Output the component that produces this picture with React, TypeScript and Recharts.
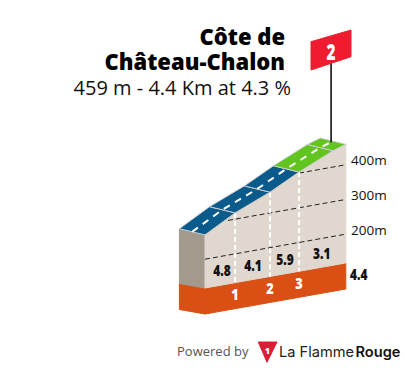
import React from 'react';
import { ScatterChart, Scatter, XAxis, YAxis } from 'recharts';

// ---- data ----
const profileKm = [0, 0.94, 2.03, 2.94, 4.0, 4.4];
const profileM = [270, 318, 360, 403, 447, 459];
const gridLevels = [200, 300, 400];
const gridStartKm = [0, 0.72, 2.94];
const kmMarks = [1, 2, 3];
const kmMarkIdx = [1, 2, 3];
const segmentSlopes = ['4.8', '4.1', '5.9', '3.1'];
const segmentLabelKm = [0.53, 1.5, 2.5, 3.65];
const segmentColors = ['#0b5a8c', '#0b5a8c', '#0b5a8c', '#61c41f', '#61c41f'];
const baseM = 117;
const totalKm = 4.4;
const titleLines = ['Côte de', 'Château-Chalon'];
const subtitle = '459 m - 4.4 Km at 4.3 %';
const avgLabel = '4.4';

// ---- projection / layout ----
const W = 405, H = 368;
const PX_KM = 32, PX_M = 0.347, SHEAR = 16.4;
const X0 = 205, Y0 = 288;
const xDomain = [(0 - X0) / PX_KM, (W - X0) / PX_KM];
const yDomain = [baseM + (Y0 - H) / PX_M, baseM + Y0 / PX_M];
const p = (km: number, m: number, dk = 0, dm = 0) => ({ x: km + dk, y: m + km * SHEAR + dm });
const fromPx = (px: number, py: number) => ({ x: (px - X0) / PX_KM, y: baseM + (Y0 - py) / PX_M });
const close = (a: any[]) => [...a, a[0]];
const elevAt = (km: number) => {
  for (let i = 1; i < profileKm.length; i++) {
    if (km <= profileKm[i]) {
      const t = (km - profileKm[i - 1]) / (profileKm[i] - profileKm[i - 1]);
      return profileM[i - 1] + t * (profileM[i] - profileM[i - 1]);
    }
  }
  return profileM[profileM.length - 1];
};
const ROAD_K = -0.8, ROAD_M = 18, SIDE_M = 13, THICK = 75;
const none = () => null;

const front = close([
  p(0, baseM),
  ...profileKm.map((k, i) => p(k, profileM[i])),
  p(totalKm, baseM),
]);
const side = close([p(0, profileM[0]), p(0, profileM[0], ROAD_K, ROAD_M), p(0, baseM, ROAD_K, SIDE_M), p(0, baseM)]);
const orangeFront = close([p(0, baseM), p(totalKm, baseM), p(totalKm, baseM - THICK), p(0, baseM - THICK)]);
const orangeSide = close([p(0, baseM), p(0, baseM, ROAD_K, SIDE_M), p(0, baseM - THICK, ROAD_K, SIDE_M), p(0, baseM - THICK)]);
const roadSegs = profileKm.slice(1).map((k, i) =>
  close([
    p(profileKm[i], profileM[i]),
    p(k, profileM[i + 1]),
    p(k, profileM[i + 1], ROAD_K, ROAD_M),
    p(profileKm[i], profileM[i], ROAD_K, ROAD_M),
  ]),
);
const centre = profileKm.map((k, i) => p(k, profileM[i], ROAD_K / 2, ROAD_M / 2));
const grids = gridLevels.map((m, i) => [p(gridStartKm[i], m), p(totalKm, m)]);
const marks = kmMarkIdx.map((idx) => [p(profileKm[idx], profileM[idx]), p(profileKm[idx], baseM)]);
const poleKm = 4.34;
const poleBase = p(poleKm, elevAt(poleKm), ROAD_K / 2, ROAD_M / 2);
const poleTop = { x: poleBase.x, y: fromPx(0, 62).y };
const flag = close([fromPx(311, 41.7), fromPx(351, 30), fromPx(351, 56.7), fromPx(311, 70)]);
const logo = close([fromPx(258.3, 342), fromPx(277, 342), fromPx(267, 362.3)]);

type L = { x: number; y: number; t: any; size: number; weight?: number; fill?: string; anchor?: string; font?: string; sx?: number };
const OS = '"Open Sans", sans-serif';
const labels: L[] = [
  { ...fromPx(285, 45), t: titleLines[0], size: 22, weight: 800, fill: '#000', anchor: 'end', font: OS },
  { ...fromPx(285, 70), t: titleLines[1], size: 22, weight: 800, fill: '#000', anchor: 'end', font: OS },
  { ...fromPx(291, 95), t: subtitle, size: 20, weight: 400, fill: '#111', anchor: 'end', font: OS },
  ...gridLevels.map((m, i) => ({ ...fromPx(351, [235, 200, 165][i]), t: `${m}m`, size: 13.5, weight: 400, fill: '#111', anchor: 'start', font: OS })),
  { ...fromPx(350, 280), t: avgLabel, size: 15, weight: 800, fill: '#111', anchor: 'start', font: OS, sx: 0.8 },
  ...segmentSlopes.map((s, i) => ({
    ...p(segmentLabelKm[i], baseM + 25),
    t: s, size: 15, weight: 800, fill: '#111', anchor: 'middle', font: OS, sx: 0.8,
  })),
  ...kmMarks.map((n, i) => ({
    ...p(profileKm[kmMarkIdx[i]], baseM - 50),
    t: String(n), size: 16, weight: 800, fill: '#fff', anchor: 'middle', font: OS, sx: 0.8,
  })),
  { ...fromPx(331, 60), t: '2', size: 22, weight: 800, fill: '#fff', anchor: 'middle', font: OS, sx: 0.7 },
  { ...fromPx(267.4, 354), t: '1', size: 9, weight: 800, fill: '#fff', anchor: 'middle', font: OS },
  { ...fromPx(177, 356), t: 'Powered by', size: 13, weight: 400, fill: '#555', anchor: 'start', font: OS },
  { ...fromPx(279, 357), t: 'La Flamme', size: 14.6, weight: 400, fill: '#222', anchor: 'start', font: 'Inter, sans-serif' },
  { ...fromPx(355.5, 357), t: 'Rouge', size: 14.6, weight: 600, fill: '#111', anchor: 'start', font: 'Inter, sans-serif' },
];

const TextMark = (pr: any) => {
  const d = pr.payload as L;
  const sx = d.sx ?? 1;
  return (
    <text
      transform={`translate(${pr.cx},${pr.cy}) scale(${sx},1)`}
      fontSize={d.size}
      fontWeight={d.weight}
      fill={d.fill}
      textAnchor={d.anchor as any}
      fontFamily={d.font}
    >
      {d.t}
    </text>
  );
};

const face = (key: string, pts: any[], fill: string, stroke?: string, sw = 1) => (
  <Scatter key={key} data={pts} shape={none} isAnimationActive={false} line={{ fill, stroke: stroke ?? fill, strokeWidth: sw }} />
);
const dash = (key: string, pts: any[], stroke: string, da: string, sw: number) => (
  <Scatter key={key} data={pts} shape={none} isAnimationActive={false} line={{ fill: 'none', stroke, strokeDasharray: da, strokeWidth: sw }} />
);

export default function App() {
  return (
    <div style={{ position: 'absolute', left: 0, top: 0, width: W, height: H }}>
      <ScatterChart width={W} height={H} margin={{ top: 0, right: 0, bottom: 0, left: 0 }}>
        <XAxis dataKey="x" type="number" domain={xDomain as any} hide allowDataOverflow />
        <YAxis dataKey="y" type="number" domain={yDomain as any} hide allowDataOverflow />
        {face('orangeSide', orangeSide, '#d94f14')}
        {face('orangeFront', orangeFront, '#d94f14')}
        {face('side', side, '#a39a8e')}
        {face('front', front, '#e0d8cf')}
        {grids.map((g, i) => dash(`g${i}`, g, '#222', '5 3', 1))}
        {marks.map((g, i) => dash(`m${i}`, g, '#fff', '5 3', 2))}
        {roadSegs.map((s, i) => face(`r${i}`, s, segmentColors[i], '#cfcfcf', 1))}
        {dash('centre', centre, '#fff', '7 6', 2)}
        {dash('pole', [poleBase, poleTop], '#111', '', 1.6)}
        {face('flag', flag, '#ee1c2e')}
        {face('logo', logo, '#d81e35')}
        <Scatter data={labels} shape={TextMark} isAnimationActive={false} />
      </ScatterChart>
    </div>
  );
}
